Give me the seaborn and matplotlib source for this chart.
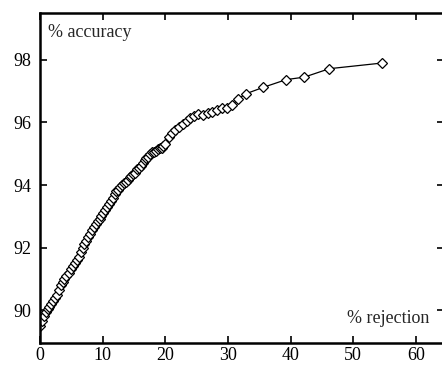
import matplotlib
matplotlib.use("Agg")
import matplotlib.pyplot as plt
import seaborn as sns
import pandas as pd

rejection = [0.0, 0.3, 0.6, 0.9, 1.2, 1.5, 1.8, 2.1, 2.4, 2.7, 3.0, 3.3, 3.6, 3.9,
             4.2, 4.6, 5.0, 5.3, 5.6, 5.9, 6.2, 6.5, 6.8, 7.1, 7.4, 7.7, 8.0, 8.3,
             8.6, 8.9, 9.2, 9.5, 9.8, 10.1, 10.4, 10.7, 11.0, 11.3, 11.6, 11.9,
             12.2, 12.5, 12.8, 13.1, 13.4, 13.7, 14.0, 14.3, 14.6, 14.9, 15.2,
             15.5, 15.8, 16.1, 16.4, 16.7, 17.0, 17.3, 17.6, 17.9, 18.2, 18.5,
             18.8, 19.1, 19.4, 19.7, 20.0, 20.6, 21.1, 21.6, 22.2, 22.8, 23.4,
             24.0, 24.6, 25.3, 26.1, 26.8, 27.5, 28.3, 29.1, 29.9, 30.7, 31.6,
             32.9, 35.6, 39.3, 42.2, 46.2, 54.6]
accuracy = [89.5, 89.65, 89.8, 89.95, 90.05, 90.1, 90.2, 90.3, 90.4, 90.5, 90.65,
            90.8, 90.9, 91.0, 91.1, 91.2, 91.3, 91.4, 91.5, 91.6, 91.7, 91.85,
            92.0, 92.1, 92.2, 92.35, 92.45, 92.55, 92.65, 92.75, 92.85, 92.9,
            93.0, 93.1, 93.2, 93.3, 93.4, 93.5, 93.6, 93.7, 93.8, 93.85, 93.95,
            94.0, 94.05, 94.1, 94.15, 94.25, 94.3, 94.35, 94.4, 94.5, 94.55,
            94.6, 94.7, 94.8, 94.85, 94.9, 95.0, 95.05, 95.05, 95.1, 95.15,
            95.2, 95.2, 95.25, 95.3, 95.55, 95.65, 95.75, 95.85, 95.95, 96.05,
            96.15, 96.2, 96.27, 96.25, 96.3, 96.35, 96.4, 96.45, 96.45, 96.55,
            96.75, 96.92, 97.12, 97.37, 97.45, 97.72, 97.9]
x_ticks = [0, 10, 20, 30, 40, 50, 60]
y_ticks = [90, 92, 94, 96, 98]

sns.set_style("ticks")
plt.rcParams["font.family"] = ["Liberation Serif", "DejaVu Serif"]

df = pd.DataFrame({"rejection": rejection, "accuracy": accuracy})

fig = plt.figure(figsize=(4.42, 3.69), dpi=100)
ax = fig.add_axes([40 / 442, 1 - 343 / 369, 404 / 442, 330 / 369])

sns.lineplot(data=df, x="rejection", y="accuracy", ax=ax, color="black",
             linewidth=0.9, marker="D", markersize=5.5,
             markerfacecolor="white", markeredgecolor="black",
             markeredgewidth=0.9)

ax.set_xlim(0, 64.5)
ax.set_ylim(88.95, 99.5)
ax.set_xticks(x_ticks)
ax.set_yticks(y_ticks)
ax.tick_params(direction="in", length=5, width=1.2, labelsize=13,
               top=True, right=True, colors="black")
ax.tick_params(axis="x", pad=3)
ax.tick_params(axis="y", pad=6)
for s in ax.spines.values():
    s.set_linewidth(1.8)
    s.set_color("black")
ax.set_xlabel("")
ax.set_ylabel("")
ax.text(0.02, 0.94, "% accuracy", transform=ax.transAxes, fontsize=13,
        ha="left", va="center")
ax.text(0.965, 0.075, "% rejection", transform=ax.transAxes, fontsize=13,
        ha="right", va="center")

fig.savefig("out.png", dpi=100)
